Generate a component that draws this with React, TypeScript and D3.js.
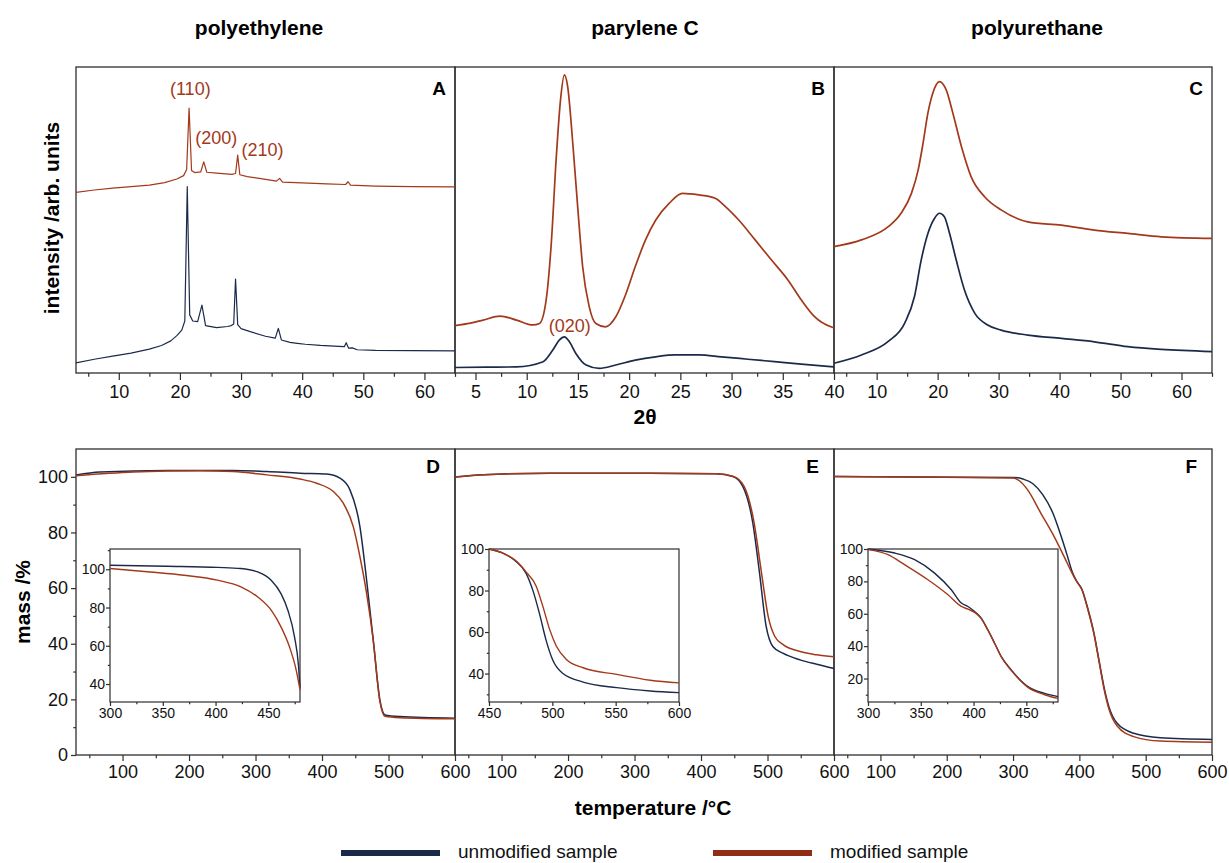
import React, { useRef, useEffect } from "react";
import * as d3 from "d3";

type Pt = [number, number];

const W = 1229;
const H = 863;
const FONT = '"Liberation Sans", Arial, Helvetica, sans-serif';
const RED = "#a3391b";
const BLUE = "#1c2a4a";
const AXIS = "#2e2e2e";

// ---- labels ----
const materials = ["polyethylene", "parylene C", "polyurethane"];
const xrdLetters = ["A", "B", "C"];
const tgaLetters = ["D", "E", "F"];
const seriesNames = ["unmodified sample", "modified sample"];

// ---- XRD: [2θ, normalised intensity (0 = frame bottom, 1 = frame top)] ----
const peModified: Pt[] = [
  [3, 0.59], [6, 0.598], [9, 0.604], [12, 0.609], [15, 0.614], [17.5, 0.622], [19.5, 0.634],
  [20.6, 0.645], [21.1, 0.665], [21.5, 0.866], [21.9, 0.662], [22.4, 0.655], [23.4, 0.657],
  [23.9, 0.69], [24.4, 0.656], [26, 0.653], [28.5, 0.649], [29.1, 0.652], [29.45, 0.712],
  [29.8, 0.648], [31, 0.642], [33, 0.636], [35.8, 0.627], [36.3, 0.636], [36.8, 0.624],
  [40, 0.621], [44, 0.618], [47.1, 0.616], [47.5, 0.625], [47.9, 0.614], [52, 0.611],
  [58, 0.609], [65, 0.608],
];
const peUnmodified: Pt[] = [
  [3, 0.033], [6, 0.045], [9, 0.055], [12, 0.065], [15, 0.078], [17, 0.09], [18.5, 0.105],
  [19.5, 0.122], [20.3, 0.14], [20.8, 0.17], [21.2, 0.609], [21.6, 0.19], [22.1, 0.17],
  [22.9, 0.168], [23.6, 0.222], [24.2, 0.155], [26, 0.148], [27.8, 0.152], [28.4, 0.155],
  [28.8, 0.16], [29.1, 0.307], [29.45, 0.158], [30, 0.145], [31.5, 0.135], [34, 0.12],
  [35.6, 0.114], [36.1, 0.146], [36.6, 0.108], [38, 0.1], [39.2, 0.097], [40.5, 0.094],
  [43, 0.09], [46, 0.087], [46.9, 0.086], [47.2, 0.099], [47.6, 0.081], [48.2, 0.082],
  [49, 0.076], [52, 0.074], [58, 0.073], [65, 0.072],
];
const paryModified: Pt[] = [
  [3, 0.155], [4.5, 0.163], [5.75, 0.173], [7.4, 0.186], [9, 0.173], [10.6, 0.157],
  [11.25, 0.162], [11.9, 0.239], [12.4, 0.424], [12.87, 0.696], [13.3, 0.892], [13.68, 0.974],
  [14.0, 0.936], [14.5, 0.75], [15.0, 0.533], [15.46, 0.348], [16.1, 0.217], [16.75, 0.162],
  [17.7, 0.151], [18.7, 0.184], [19.7, 0.26], [20.6, 0.348], [21.6, 0.435], [22.6, 0.5],
  [23.9, 0.554], [25.2, 0.587], [26.8, 0.582], [28.4, 0.571], [29.4, 0.544], [30.7, 0.5],
  [32.3, 0.435], [33.9, 0.369], [35.5, 0.304], [36.8, 0.239], [38.1, 0.184], [39.7, 0.151],
  [40, 0.148],
];
const paryUnmodified: Pt[] = [
  [3, 0.018], [6, 0.019], [9, 0.02], [11.6, 0.037], [12.55, 0.075], [13.2, 0.108],
  [13.68, 0.118], [14.17, 0.102], [14.8, 0.064], [15.8, 0.026], [17.1, 0.015], [18.7, 0.026],
  [20.6, 0.042], [22.6, 0.053], [24.5, 0.059], [26.8, 0.059], [29, 0.053], [31.6, 0.045],
  [34.2, 0.037], [36.8, 0.029], [40, 0.02],
];
const puModified: Pt[] = [
  [3, 0.413], [7.5, 0.435], [11.9, 0.478], [14, 0.522], [15.7, 0.587], [16.8, 0.663],
  [17.6, 0.75], [18.4, 0.849], [19.2, 0.914], [20.3, 0.952], [21.4, 0.925], [22.5, 0.849],
  [23.9, 0.74], [25.5, 0.641], [27.7, 0.576], [30.4, 0.533], [34.8, 0.494], [40.3, 0.483],
  [45.7, 0.467], [51.2, 0.456], [56.7, 0.445], [65, 0.44],
];
const puUnmodified: Pt[] = [
  [3, 0.032], [7.5, 0.059], [11.9, 0.103], [14.6, 0.163], [16.2, 0.25], [17.3, 0.369],
  [18.4, 0.456], [19.5, 0.506], [20.3, 0.522], [21.1, 0.511], [21.96, 0.456], [23.05, 0.369],
  [24.4, 0.271], [26.1, 0.195], [28.2, 0.157], [30.4, 0.14], [34.8, 0.124], [40.3, 0.113],
  [45.7, 0.102], [51.2, 0.086], [56.7, 0.077], [65, 0.07],
];
const xrdRanges: Pt[] = [[3, 65], [3, 40], [3, 65]];
const xrdTicks = [
  [10, 20, 30, 40, 50, 60],
  [5, 10, 15, 20, 25, 30, 35, 40],
  [10, 20, 30, 40, 50, 60],
];
const xrdAnnotations = [
  { panel: 0, label: "(110)", x: 21.7, y: 0.908 },
  { panel: 0, label: "(200)", x: 25.95, y: 0.748 },
  { panel: 0, label: "(210)", x: 33.5, y: 0.709 },
  { panel: 1, label: "(020)", x: 14.2, y: 0.134 },
];

// ---- TGA: [temperature °C, mass %] ----
const tgaPeUnmod: Pt[] = [
  [30, 100.7], [66, 101.7], [166, 102.3], [266, 102.3], [317, 101.9], [367, 101.3],
  [407, 101], [427, 99.5], [442, 95.3], [457, 82.1], [467, 63], [477, 41.4], [487, 19.8],
  [494.7, 14.4], [517, 13.8], [600, 13.2],
];
const tgaPeMod: Pt[] = [
  [30, 100.4], [116, 101.7], [216, 102.2], [266, 101.9], [317, 100.7], [367, 99.2],
  [392, 97.7], [417, 94.7], [432, 90.5], [447, 82.1], [457, 71.3], [467, 58.2], [477, 41.4],
  [487, 19.4], [494.7, 13.9], [517, 13.4], [600, 13],
];
const tgaPaUnmod: Pt[] = [
  [30, 99.9], [73, 100.7], [173, 101.3], [323, 101.3], [423, 101.1], [448, 100.1],
  [463, 96.5], [478, 83.3], [488, 65.4], [498, 46.2], [508, 39], [523, 36.6], [549, 34.2],
  [574, 32.6], [600, 31.1],
];
const tgaPaMod: Pt[] = [
  [30, 99.9], [73, 100.7], [173, 101.3], [323, 101.3], [423, 101.1], [449, 100.1],
  [465, 96.5], [480, 83.3], [491, 65.4], [501, 49.8], [511, 42.6], [524, 39.6], [549, 37.2],
  [574, 36], [600, 35.3],
];
const tgaPuUnmod: Pt[] = [
  [30, 100.1], [150, 99.9], [300, 99.8], [315, 99.2], [330, 97.5], [345, 93.5], [360, 87],
  [372, 79], [382, 71.5], [389, 66], [396, 62.5], [404, 59.5], [412, 53.3], [422, 43.8],
  [429.5, 34.2], [437, 24.6], [444.5, 17.4], [457, 11.4], [482, 7.8], [522, 6.2], [600, 5.6],
];
const tgaPuMod: Pt[] = [
  [30, 100.1], [150, 99.9], [300, 99.6], [310, 98.5], [322, 95.3], [342, 86.9], [362, 78.5],
  [377, 71.3], [389, 65.4], [396, 62.3], [404, 59.3], [412, 53], [422, 43.5], [429.5, 33.8],
  [437, 24], [444.5, 16.6], [457, 10.4], [482, 6.6], [522, 5], [600, 4.6],
];
const tgaRange: Pt = [30, 600];
const massRange: Pt = [0, 110];
const tempTicks = [100, 200, 300, 400, 500, 600];
const massTicks = [0, 20, 40, 60, 80, 100];

// ---- TGA insets ----
const insetPeUnmod: Pt[] = [
  [300, 102.1], [354, 101.6], [402, 101], [424, 100.4], [440, 98.6], [452.7, 94.3],
  [462, 87.3], [468.5, 78.6], [474.8, 64.7], [478.5, 50], [480, 38],
];
const insetPeMod: Pt[] = [
  [300, 100.4], [338, 98.6], [370, 96.9], [402, 94.3], [424, 90.8], [440, 85.5],
  [452.7, 78.6], [462, 69.9], [470, 59.5], [476.4, 47.3], [480, 37],
];
const insetPaUnmod: Pt[] = [
  [450, 100], [460.6, 98.1], [471.3, 94], [479.2, 88.4], [484.5, 80.3], [489.8, 69],
  [495.1, 56], [500.4, 46.4], [508.4, 40], [524.3, 35.9], [550.8, 33.2], [577.4, 31.6],
  [600, 30.8],
];
const insetPaMod: Pt[] = [
  [450, 100], [460.6, 98.1], [471.3, 94.3], [479.2, 89], [487.1, 82.3], [492.4, 72.6],
  [497.8, 61.4], [503.1, 53.3], [511.1, 46.8], [524.3, 42.8], [550.8, 39.6], [577.4, 36.8],
  [600, 35.5],
];
const insetPuUnmod: Pt[] = [
  [300, 100], [325.3, 97.5], [344.2, 93.4], [363.1, 85.1], [378.9, 74.8], [388.4, 66.6],
  [394.7, 64.5], [401, 61.4], [407.3, 57.3], [413.6, 50], [420, 41.8], [426.3, 33.5],
  [435.7, 25.3], [451.5, 15], [467.3, 10.8], [480, 8.8],
];
const insetPuMod: Pt[] = [
  [300, 99.6], [318.9, 96.5], [334.7, 90.3], [356.8, 81], [375.8, 71.7], [388.4, 64.5],
  [394.7, 62.8], [401, 60.9], [407.3, 57], [413.6, 49.8], [420, 41.6], [426.3, 33.3],
  [435.7, 25], [451.5, 14.5], [467.3, 10], [480, 7.7],
];
const insetXRanges: Pt[] = [[300, 480], [450, 600], [300, 480]];
const insetYRanges: Pt[] = [[30.6, 110.6], [26.3, 100], [5.5, 100]];
const insetXTicks = [[300, 350, 400, 450], [450, 500, 550, 600], [300, 350, 400, 450]];
const insetYTicks = [[40, 60, 80, 100], [40, 60, 80, 100], [20, 40, 60, 80, 100]];

// layout
const cols: Pt[] = [[76, 455], [455, 834], [834, 1212]];
const topRow: Pt = [67, 373];
const botRow: Pt = [449, 755];

function cleanAxis(g: any, size: number) {
  g.attr("font-family", FONT).attr("font-size", size);
  g.select(".domain").remove();
  g.selectAll(".tick line").attr("stroke", AXIS).attr("stroke-width", 1.2);
  g.selectAll(".tick text").attr("fill", "#111");
}

function bottomAxis(root: any, x: any, y: number, major: number[], minor: number[], size: number, len: number, pad: number) {
  const g = root.append("g").attr("transform", `translate(0,${y})`)
    .call(d3.axisBottom(x).tickValues(major).tickSize(len).tickSizeOuter(0).tickPadding(pad)
      .tickFormat(d3.format("d") as any));
  cleanAxis(g, size);
  const m = root.append("g").attr("transform", `translate(0,${y})`)
    .call(d3.axisBottom(x).tickValues(minor).tickSize(len * 0.55).tickSizeOuter(0).tickFormat(() => ""));
  cleanAxis(m, size);
}

function leftAxis(root: any, yScale: any, x: number, major: number[], minor: number[], size: number, len: number, pad: number) {
  const g = root.append("g").attr("transform", `translate(${x},0)`)
    .call(d3.axisLeft(yScale).tickValues(major).tickSize(len).tickSizeOuter(0).tickPadding(pad)
      .tickFormat(d3.format("d") as any));
  cleanAxis(g, size);
  const m = root.append("g").attr("transform", `translate(${x},0)`)
    .call(d3.axisLeft(yScale).tickValues(minor).tickSize(len * 0.55).tickSizeOuter(0).tickFormat(() => ""));
  cleanAxis(m, size);
}

export default function App() {
  const svgRef = useRef<SVGSVGElement>(null);

  useEffect(() => {
    document.body.style.margin = "0";
    document.body.style.overflow = "hidden";
    const svg = d3.select(svgRef.current);
    svg.selectAll("*").remove();

    const xrdSeries = [
      [peUnmodified, peModified],
      [paryUnmodified, paryModified],
      [puUnmodified, puModified],
    ];
    const tgaSeries = [
      [tgaPeUnmod, tgaPeMod],
      [tgaPaUnmod, tgaPaMod],
      [tgaPuUnmod, tgaPuMod],
    ];
    const insetSeries = [
      [insetPeUnmod, insetPeMod],
      [insetPaUnmod, insetPaMod],
      [insetPuUnmod, insetPuMod],
    ];
    const colors = [BLUE, RED];

    // frames first so the curves sit on top of shared borders
    const frames = svg.append("g");
    cols.forEach(([x0, x1]) => {
      [topRow, botRow].forEach(([y0, y1]) => {
        frames.append("rect").attr("x", x0).attr("y", y0).attr("width", x1 - x0).attr("height", y1 - y0)
          .attr("fill", "none").attr("stroke", AXIS).attr("stroke-width", 1.3);
      });
    });

    const intensity = d3.scaleLinear().domain([0, 1]).range([topRow[1], topRow[0]]);
    const mass = d3.scaleLinear().domain(massRange).range([botRow[1], botRow[0]]);

    // ==== XRD row ====
    cols.forEach(([x0, x1], i) => {
      const x = d3.scaleLinear().domain(xrdRanges[i]).range([x0, x1]);
      const line = d3.line<Pt>().x((d) => x(d[0])).y((d) => intensity(d[1]))
        .curve(i === 0 ? d3.curveLinear : d3.curveMonotoneX);
      xrdSeries[i].forEach((s, k) => {
        svg.append("path").attr("d", line(s)).attr("fill", "none").attr("stroke", colors[k])
          .attr("stroke-width", i === 0 ? 1.2 : 1.7).attr("stroke-linejoin", "round");
      });
      const step = xrdTicks[i][1] - xrdTicks[i][0];
      const minor = d3.range(xrdTicks[i][0] - step / 2, xrdRanges[i][1] + 0.01, step)
        .filter((v) => v >= xrdRanges[i][0]);
      bottomAxis(svg, x, topRow[1], xrdTicks[i], minor, 18, 7, 5);

      svg.append("text").attr("x", x1 - 9).attr("y", 95).attr("text-anchor", "end")
        .attr("font-family", FONT).attr("font-weight", "bold").attr("font-size", 19).text(xrdLetters[i]);

      xrdAnnotations.filter((a) => a.panel === i).forEach((a) => {
        svg.append("text").attr("x", x(a.x)).attr("y", intensity(a.y)).attr("text-anchor", "middle")
          .attr("font-family", FONT).attr("font-size", 18).attr("fill", RED).text(a.label);
      });
    });

    // ==== TGA row ====
    cols.forEach(([x0, x1], i) => {
      const x = d3.scaleLinear().domain(tgaRange).range([x0, x1]);
      const line = d3.line<Pt>().x((d) => x(d[0])).y((d) => mass(d[1])).curve(d3.curveMonotoneX);
      tgaSeries[i].forEach((s, k) => {
        svg.append("path").attr("d", line(s)).attr("fill", "none").attr("stroke", colors[k])
          .attr("stroke-width", 1.5);
      });
      bottomAxis(svg, x, botRow[1], tempTicks, d3.range(50, 600, 100), 18, 6, 4);
      if (i === 0) leftAxis(svg, mass, x0, massTicks, d3.range(10, 110, 20), 18, 5, 3);

      svg.append("text").attr("x", x1 - 15).attr("y", 473).attr("text-anchor", "end")
        .attr("font-family", FONT).attr("font-weight", "bold").attr("font-size", 19).text(tgaLetters[i]);

      // inset
      const ix0 = x0 + 34, ix1 = ix0 + 190, iy0 = 549, iy1 = 702;
      const inset = svg.append("g");
      inset.append("rect").attr("x", ix0).attr("y", iy0).attr("width", ix1 - ix0).attr("height", iy1 - iy0)
        .attr("fill", "#fff").attr("stroke", AXIS).attr("stroke-width", 1.2);
      const ixs = d3.scaleLinear().domain(insetXRanges[i]).range([ix0, ix1]);
      const iys = d3.scaleLinear().domain(insetYRanges[i]).range([iy1, iy0]);
      const iline = d3.line<Pt>().x((d) => ixs(d[0])).y((d) => iys(d[1])).curve(d3.curveMonotoneX);
      insetSeries[i].forEach((s, k) => {
        inset.append("path").attr("d", iline(s)).attr("fill", "none").attr("stroke", colors[k])
          .attr("stroke-width", 1.4);
      });
      const xt = insetXTicks[i];
      const xMinor = d3.range(xt[0] + 25, insetXRanges[i][1] + 0.1, 50);
      const yMinor = d3.range(insetYTicks[i][0] - 10, insetYRanges[i][1], 20).filter((v) => v > insetYRanges[i][0]);
      bottomAxis(inset, ixs, iy1, xt, xMinor, 14, 4, 2);
      leftAxis(inset, iys, ix0, insetYTicks[i], yMinor, 14, 4, 1);
    });

    // ==== titles, axis labels ====
    const titleX = [259, 645, 1037];
    materials.forEach((m, i) => {
      svg.append("text").attr("x", titleX[i]).attr("y", 35).attr("text-anchor", "middle")
        .attr("font-family", FONT).attr("font-weight", "bold").attr("font-size", 21).text(m);
    });
    const bold = (t: string, x: number, y: number, rot = 0) =>
      svg.append("text").attr("transform", `translate(${x},${y}) rotate(${rot})`).attr("text-anchor", "middle")
        .attr("font-family", FONT).attr("font-weight", "bold").attr("font-size", 21).text(t);
    bold("intensity /arb. units", 59, 218, -90);
    bold("2θ", 645, 424);
    bold("mass /%", 30, 602, -90);
    bold("temperature /°C", 653, 815);

    // ==== legend ====
    const legendX = [341, 713];
    seriesNames.forEach((name, k) => {
      svg.append("line").attr("x1", legendX[k]).attr("x2", legendX[k] + 99).attr("y1", 853).attr("y2", 853)
        .attr("stroke", k === 0 ? BLUE : "#8f2d16").attr("stroke-width", 6);
      svg.append("text").attr("x", legendX[k] + 117).attr("y", 858).attr("font-family", FONT)
        .attr("font-size", 19).attr("fill", "#111").text(name);
    });
  }, []);

  return <svg ref={svgRef} width={W} height={H} style={{ display: "block", background: "#fff" }} />;
}
